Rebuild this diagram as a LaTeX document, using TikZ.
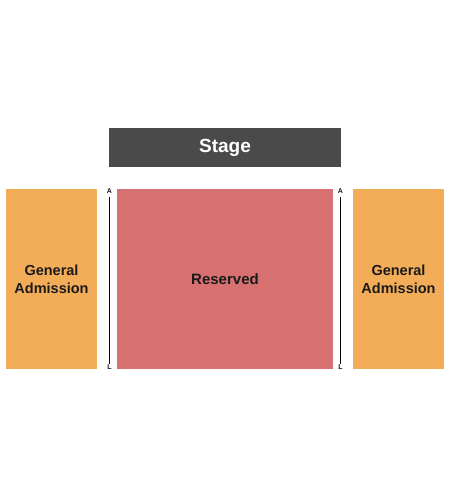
\documentclass[tikz,border=0pt]{standalone}
\usepackage{fontspec}
\setmainfont{Liberation Sans}
\definecolor{stagec}{HTML}{4A4A4A}
\definecolor{resc}{HTML}{D77171}
\definecolor{gac}{HTML}{F3AD58}
\definecolor{txt}{HTML}{1A1A1A}
\begin{document}
\begin{tikzpicture}[x=1pt,y=-1pt,
  area/.style={draw=none,anchor=north west,inner sep=0pt,outer sep=0pt,font=\bfseries,align=center},
  rowlbl/.style={font=\bfseries\fontsize{7}{7}\selectfont,inner sep=0pt,text=txt},
  rowline/.style={line width=1pt,black}]
\useasboundingbox (0,0) rectangle (450,500);
\fill[white] (0,0) rectangle (450,500);
\node[area,fill=stagec,minimum width=232pt,minimum height=39pt,text=white,font=\bfseries\fontsize{19}{19}\selectfont] (stage) at (109,128) {Stage};
\node[area,fill=resc,minimum width=216pt,minimum height=180pt,text=txt,font=\bfseries\fontsize{15}{18}\selectfont] (res) at (117,189) {Reserved};
\node[area,fill=gac,minimum width=91pt,minimum height=180pt,text=txt,font=\bfseries\fontsize{14.5}{18}\selectfont] (gal) at (6,189) {General\\Admission};
\node[area,fill=gac,minimum width=91pt,minimum height=180pt,text=txt,font=\bfseries\fontsize{14.5}{18}\selectfont] (gar) at (353,189) {General\\Admission};
\node[rowlbl] (la) at (109.5,191) {A};
\node[rowlbl] (ll) at (109.5,367) {L};
\node[rowlbl] (ra) at (340.5,191) {A};
\node[rowlbl] (rl) at (340.5,367) {L};
\draw[rowline] (la.south) ++(0,3) coordinate (la1) -- (la1 |- ll.north) ++(0,0);
\draw[rowline] (ra.south) ++(0,3) coordinate (ra1) -- (ra1 |- rl.north);
\end{tikzpicture}
\end{document}
